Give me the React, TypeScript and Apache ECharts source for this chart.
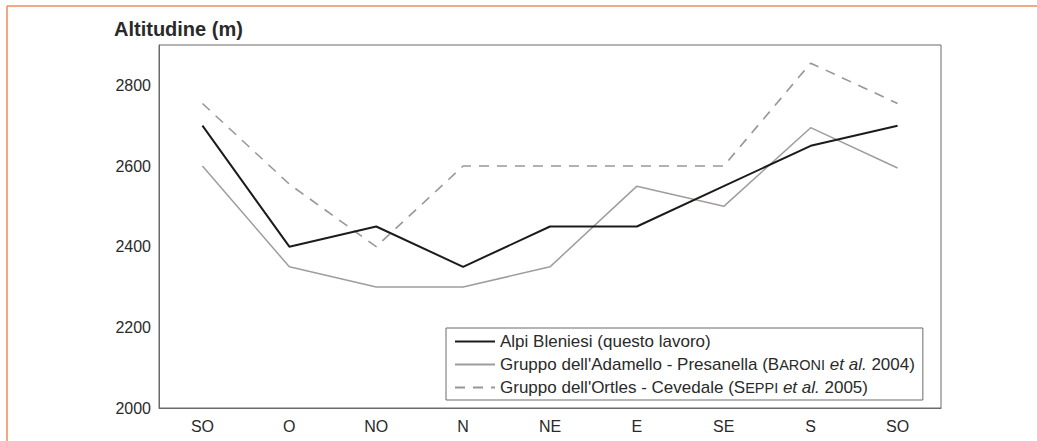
import React, { useEffect, useRef } from "react";
import * as echarts from "echarts";

const categories = ["SO", "O", "NO", "N", "NE", "E", "SE", "S", "SO"];
const alpiBleniesi = [2700, 2400, 2450, 2350, 2450, 2450, 2550, 2650, 2700];
const adamello = [2600, 2350, 2300, 2300, 2350, 2550, 2500, 2695, 2595];
const ortles = [2755, 2555, 2400, 2600, 2600, 2600, 2600, 2855, 2755];
const seriesNames = [
  "Alpi Bleniesi (questo lavoro)",
  "Gruppo dell'Adamello - Presanella (BARONI et al. 2004)",
  "Gruppo dell'Ortles - Cevedale (SEPPI et al. 2005)",
];
const yTitle = "Altitudine (m)";

export default function App() {
  const ref = useRef<HTMLDivElement>(null);
  useEffect(() => {
    if (!ref.current) return;
    const chart = echarts.init(ref.current, null, { renderer: "svg" });
    const font = "Liberation Sans, Arial, sans-serif";
    const legendLabels: Record<string, string> = {
      [seriesNames[0]]: "Alpi Bleniesi (questo lavoro)",
      [seriesNames[1]]:
        "Gruppo dell'Adamello - Presanella ({n|B}{sc|ARONI} {it|et al.} 2004)",
      [seriesNames[2]]:
        "Gruppo dell'Ortles - Cevedale ({n|S}{sc|EPPI} {it|et al.} 2005)",
    };
    chart.setOption({
      animation: false,
      backgroundColor: "#ffffff",
      textStyle: { fontFamily: font },
      graphic: [
        {
          type: "line",
          shape: { x1: 7, y1: 6, x2: 1037, y2: 6 },
          style: { stroke: "#ef8a5c", lineWidth: 1.5 },
        },
        {
          type: "line",
          shape: { x1: 7, y1: 6, x2: 7, y2: 441 },
          style: { stroke: "#ef8a5c", lineWidth: 1.5 },
        },
        {
          type: "text",
          left: 114,
          top: 19,
          style: {
            text: yTitle,
            font: `bold 20px ${font}`,
            fill: "#2a2a2a",
          },
        },
      ],
      grid: {
        left: 159,
        top: 45,
        right: 96,
        bottom: 33,
        show: true,
        borderColor: "#6a6a6a",
        borderWidth: 1,
      },
      legend: {
        orient: "vertical",
        left: 446,
        top: 328,
        itemWidth: 40,
        itemHeight: 14,
        itemGap: 6,
        padding: [5, 8, 4, 8],
        borderColor: "#6a6a6a",
        borderWidth: 1,
        data: seriesNames,
        itemStyle: { opacity: 0 },
        formatter: (name: string) => legendLabels[name] || name,
        textStyle: {
          fontSize: 17,
          color: "#2a2a2a",
          fontFamily: font,
          rich: {
            n: { fontSize: 17, color: "#2a2a2a", fontFamily: font },
            sc: { fontSize: 14.5, color: "#2a2a2a", fontFamily: font },
            it: {
              fontSize: 17,
              fontStyle: "italic",
              color: "#2a2a2a",
              fontFamily: font,
            },
          },
        },
      },
      xAxis: {
        type: "category",
        data: categories,
        boundaryGap: true,
        axisLine: { show: true, lineStyle: { color: "#6a6a6a", width: 1 } },
        axisTick: { show: false },
        axisLabel: { fontSize: 16, color: "#2a2a2a", margin: 10 },
        splitLine: { show: false },
      },
      yAxis: {
        type: "value",
        min: 2000,
        max: 2900,
        interval: 200,
        axisLine: { show: true, lineStyle: { color: "#6a6a6a", width: 1 } },
        axisTick: { show: false },
        axisLabel: {
          fontSize: 16,
          color: "#2a2a2a",
          margin: 8,
          showMaxLabel: false,
          formatter: (v: number) => String(v),
        },
        splitLine: { show: false },
      },
      series: [
        {
          name: seriesNames[0],
          type: "line",
          data: alpiBleniesi,
          symbol: "none",
          lineStyle: { color: "#1e1a1a", width: 2 },
          itemStyle: { color: "#1e1a1a" },
          z: 5,
        },
        {
          name: seriesNames[1],
          type: "line",
          data: adamello,
          symbol: "none",
          lineStyle: { color: "#a09c9c", width: 1.5 },
          itemStyle: { color: "#a09c9c" },
          z: 4,
        },
        {
          name: seriesNames[2],
          type: "line",
          data: ortles,
          symbol: "none",
          lineStyle: { color: "#9a9696", width: 1.6, type: [10, 8] },
          itemStyle: { color: "#9a9696" },
          z: 3,
        },
      ],
    });
    return () => chart.dispose();
  }, []);
  return (
    <div
      ref={ref}
      style={{ position: "fixed", left: 0, top: 0, width: 1037, height: 441 }}
    />
  );
}
